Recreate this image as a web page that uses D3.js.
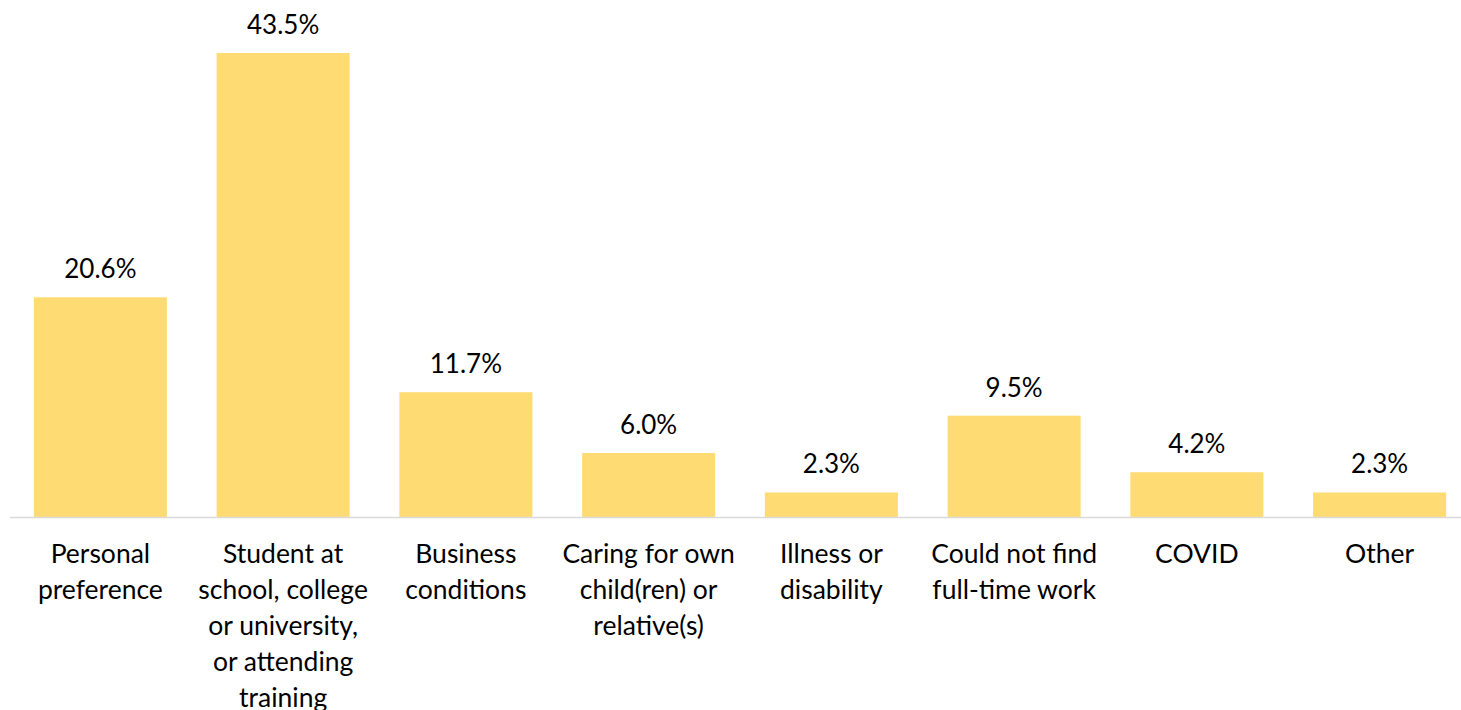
<!DOCTYPE html>
<html>
<head>
<meta charset="utf-8">
<script src="https://cdn.jsdelivr.net/npm/d3@7"></script>
<style>
  html, body { margin: 0; padding: 0; background: #fff; }
  svg { display: block; }
  text { font-family: Lato, "Open Sans", sans-serif; fill: #000; }
</style>
</head>
<body>
<svg id="chart" width="1461" height="710"></svg>
<script>
const categories = [
  ["Personal", "preference"],
  ["Student at", "school, college", "or university,", "or attending", "training"],
  ["Business", "conditions"],
  ["Caring for own", "child(ren) or", "relative(s)"],
  ["Illness or", "disability"],
  ["Could not find", "full-time work"],
  ["COVID"],
  ["Other"]
];
const values = [20.6, 43.5, 11.7, 6.0, 2.3, 9.5, 4.2, 2.3];
const valueLabels = ["20.6%", "43.5%", "11.7%", "6.0%", "2.3%", "9.5%", "4.2%", "2.3%"];

const svg = d3.select("#chart");
const baseline = 517;
const keys = categories.map((c, i) => i);

const x = d3.scaleBand().domain(keys).range([9, 1471]).paddingInner(0.272).paddingOuter(0.136);
const y = d3.scaleLinear().domain([0, 45]).range([baseline, 37]);

svg.selectAll("rect.bar").data(values).enter().append("rect")
  .attr("class", "bar")
  .attr("x", (d, i) => x(i))
  .attr("y", d => y(d))
  .attr("width", x.bandwidth())
  .attr("height", d => y(0) - y(d))
  .attr("fill", "#FFDC73");

svg.append("line")
  .attr("x1", 10).attr("x2", 1461)
  .attr("y1", baseline + 0.5).attr("y2", baseline + 0.5)
  .attr("stroke", "#D9D9D9").attr("stroke-width", 1.5);

svg.selectAll("text.val").data(values).enter().append("text")
  .attr("class", "val")
  .attr("x", (d, i) => x(i) + x.bandwidth() / 2)
  .attr("y", d => y(d) - 19)
  .attr("text-anchor", "middle")
  .attr("font-size", 26)
  .text((d, i) => valueLabels[i]);

const lab = svg.selectAll("text.cat").data(categories).enter().append("text")
  .attr("class", "cat")
  .attr("x", (d, i) => x(i) + x.bandwidth() / 2)
  .attr("y", baseline + 46)
  .attr("text-anchor", "middle")
  .attr("font-size", 26.5);
lab.each(function(lines, i) {
  const t = d3.select(this);
  lines.forEach((l, j) => {
    t.append("tspan")
      .attr("x", x(i) + x.bandwidth() / 2)
      .attr("dy", j === 0 ? 0 : 36)
      .text(l);
  });
});
</script>
</body>
</html>
